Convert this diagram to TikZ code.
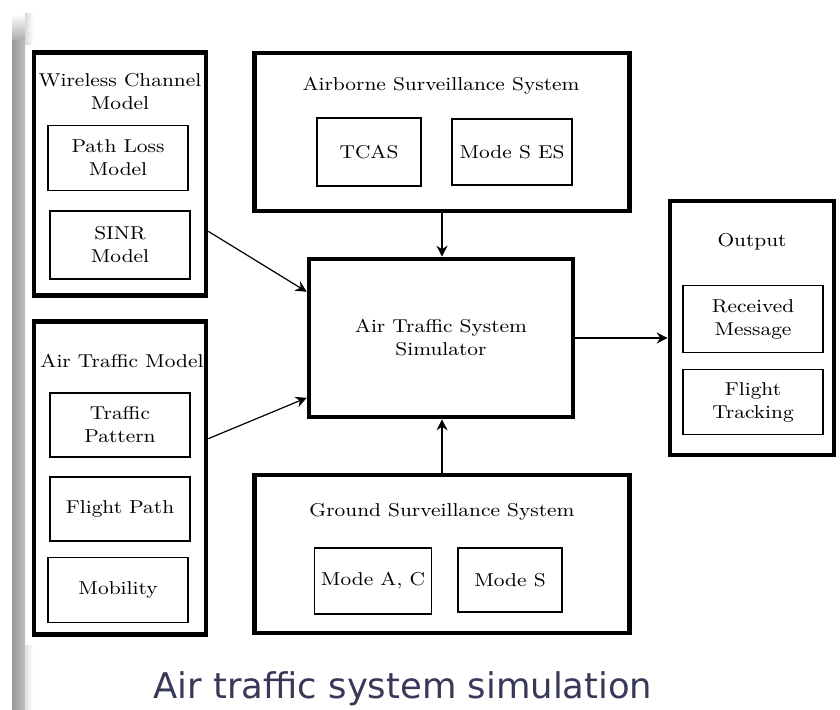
\documentclass[tikz,border=0pt]{standalone}
\usepackage{fontspec}
\usetikzlibrary{arrows.meta}

\newfontfamily\boxfont{Latin Modern Roman}[FakeStretch=1.12]
\newfontfamily\captionfont{DejaVu Sans}
\definecolor{captionblue}{RGB}{56,56,88}
\def\thickline{2.3pt}
\def\thinline{0.9pt}

\begin{document}
\begin{tikzpicture}[x=0.5pt, y=-0.5pt,
    nodes = {font=\boxfont\fontsize{9.3}{11.5}\selectfont, align=center},
    boxsize/.style 2 args = {minimum width=#1*0.5pt, minimum height=#2*0.5pt},
    outerbox/.style = {draw, line width=\thickline, inner sep=0pt},
    innerbox/.style = {draw, line width=\thinline, inner sep=0pt},
    link/.style = {-{Stealth[length=5.5pt,width=5.5pt]}, line width=0.6pt}]
    \useasboundingbox (0,0) rectangle (840,710);
    % Grey bar down the left side
    \shade[left color=gray!80, right color=gray!50] (12,40) rectangle (25,710);
    \shade[top color=white, bottom color=gray!65] (12,14) rectangle (25,40);
    \shade[left color=gray!30, right color=white] (25,14) rectangle (33,45);
    \shade[left color=gray!25, right color=white] (25,645) rectangle (33,710);
    % Outer blocks
    \node[outerbox, boxsize={172}{243}] (wcm) at (120,174) {};
    \node[outerbox, boxsize={172}{313}] (atm) at (120,478) {};
    \node[outerbox, boxsize={375}{158}] (ass) at (442,132) {};
    \node[outerbox, boxsize={375}{158}] (gss) at (442,554) {};
    \node[outerbox, boxsize={264}{158}] (sim) at (441,338) {Air Traffic System\\Simulator};
    \node[outerbox, boxsize={164}{254}] (out) at (752,328) {};
    % Block titles
    \node (wcmtitle) at (120,92)  {Wireless Channel\\Model};
    \node (atmtitle) at (122,361) {Air Traffic Model};
    \node (asstitle) at (441,86)  {Airborne Surveillance System};
    \node (gsstitle) at (442,512) {Ground Surveillance System};
    \node (outtitle) at (752,242) {Output};
    % Inner blocks
    \node[innerbox, boxsize={140}{65}] (plm)  at (118,158) {Path Loss\\Model};
    \node[innerbox, boxsize={140}{68}] (sinr) at (120,245) {SINR\\Model};
    \node[innerbox, boxsize={140}{64}] (tp)   at (120,425) {Traffic\\Pattern};
    \node[innerbox, boxsize={140}{64}] (fp)   at (120,509) {Flight Path};
    \node[innerbox, boxsize={140}{65}] (mob)  at (118,590) {Mobility};
    \node[innerbox, boxsize={104}{68}] (tcas) at (369,152) {TCAS};
    \node[innerbox, boxsize={120}{66}] (mses) at (512,152) {Mode S ES};
    \node[innerbox, boxsize={117}{66}] (mac)  at (373,581) {Mode A, C};
    \node[innerbox, boxsize={104}{64}] (ms)   at (510,580) {Mode S};
    \node[innerbox, boxsize={140}{67}] (rm)   at (753,319) {Received\\Message};
    \node[innerbox, boxsize={140}{65}] (ft)   at (753,402) {Flight\\Tracking};
    % Links into and out of the simulator
    \draw[link] (wcm.-33) -- (sim.161);
    \draw[link] (atm.24) -- (sim.204);
    \draw[link] (ass.south) -- (ass.south |- sim.north);
    \draw[link] (gss.north) -- (gss.north |- sim.south);
    \draw[link] (sim.east) -- (out.west |- sim.east);
    % Caption
    \node[font=\captionfont\fontsize{17.7}{20}\selectfont, text=captionblue,
      anchor=base] (caption) at (403,698) {Air traffic system simulation};
\end{tikzpicture}
\end{document}
